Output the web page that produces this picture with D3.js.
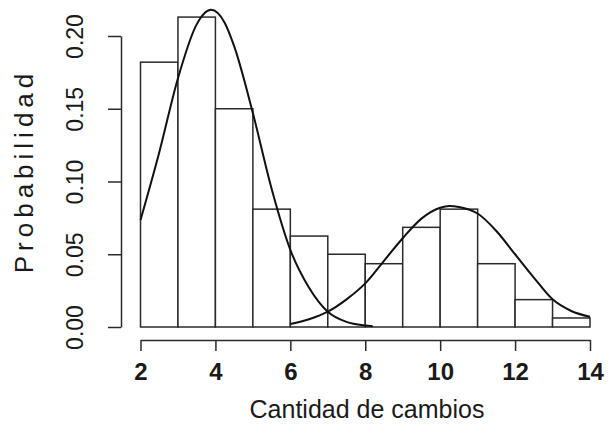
<!DOCTYPE html>
<html lang="es">
<meta charset="UTF-8">
<title>Probabilidad - Cantidad de cambios</title>
<style>
body {margin:0; background:#fff}
svg text {font-family: "Liberation Sans", Arial, sans-serif; fill:#1a1a1a}
</style>
<body>
<div id="chart"></div>
<script src="https://d3js.org/d3.v7.min.js"></script>
<script>
// histogram bins (left edge) and heights
var binStart = [2, 3, 4, 5, 6, 7, 8, 9, 10, 11, 12, 13];
var binProb  = [0.182, 0.213, 0.150, 0.081, 0.0625, 0.050, 0.0435, 0.0685, 0.081, 0.0435, 0.0188, 0.0062];

// first fitted curve (left mode)
var curve1X = [2, 2.5, 3, 3.5, 3.88, 4.25, 4.5, 5, 5.5, 6, 6.5, 7, 7.5, 8, 8.2];
var curve1Y = [0.0735, 0.120, 0.171, 0.208, 0.218, 0.209, 0.193, 0.147, 0.095, 0.053, 0.027, 0.0105, 0.0035, 0.001, 0.0005];

// second fitted curve (right mode)
var curve2X = [6, 6.5, 7, 7.5, 8, 8.5, 9, 9.5, 10, 10.25, 10.5, 11, 11.5, 12, 12.5, 13, 13.5, 14];
var curve2Y = [0.002, 0.0053, 0.0105, 0.019, 0.030, 0.0455, 0.061, 0.0745, 0.082, 0.0832, 0.0825, 0.078, 0.066, 0.050, 0.034, 0.019, 0.011, 0.007];

var xTicks = [2, 4, 6, 8, 10, 12, 14];
var yTicks = [0, 0.05, 0.10, 0.15, 0.20];

var W = 608, H = 424;
var svg = d3.select("#chart").append("svg")
    .attr("width", W)
    .attr("height", H);

var x = d3.scaleLinear().domain([2, 14]).range([140.5, 590]);
var y = d3.scaleLinear().domain([0, 0.2]).range([327, 36]);

// bars
svg.append("g")
  .selectAll("rect")
  .data(binStart)
  .enter().append("rect")
    .attr("x", function(d) { return x(d); })
    .attr("y", function(d, i) { return y(binProb[i]); })
    .attr("width", function(d) { return x(d + 1) - x(d); })
    .attr("height", function(d, i) { return y(0) - y(binProb[i]); })
    .attr("fill", "#fff")
    .attr("stroke", "#2b2b2b")
    .attr("stroke-width", 1.5);

// curves
var line = d3.line()
    .x(function(d) { return x(d[0]); })
    .y(function(d) { return y(d[1]); })
    .curve(d3.curveMonotoneX);

[[curve1X, curve1Y], [curve2X, curve2Y]].forEach(function(c) {
  svg.append("path")
    .datum(c[0].map(function(v, i) { return [v, c[1][i]]; }))
    .attr("d", line)
    .attr("fill", "none")
    .attr("stroke", "#111")
    .attr("stroke-width", 2);
});

// x axis
var gx = svg.append("g")
    .attr("transform", "translate(0,340)")
    .call(d3.axisBottom(x).tickValues(xTicks).tickSize(11).tickSizeOuter(0).tickPadding(12));
gx.select(".domain").attr("stroke", "#2b2b2b").attr("stroke-width", 1.5);
gx.selectAll(".tick line").attr("stroke", "#2b2b2b").attr("stroke-width", 1.5);
gx.selectAll(".tick text")
    .attr("font-size", 24)
    .attr("font-weight", "bold")
    .attr("fill", "#1a1a1a")
    .attr("font-family", "Liberation Sans, Arial, sans-serif");

// y axis
var gy = svg.append("g")
    .attr("transform", "translate(121,0)")
    .call(d3.axisLeft(y).tickValues(yTicks).tickFormat(d3.format(".2f")).tickSize(13).tickSizeOuter(0));
gy.select(".domain").attr("stroke", "#2b2b2b").attr("stroke-width", 1.5);
gy.selectAll(".tick line").attr("stroke", "#2b2b2b").attr("stroke-width", 1.5);
gy.selectAll(".tick text")
    .attr("font-size", 23)
    .attr("fill", "#1a1a1a")
    .attr("font-family", "Liberation Sans, Arial, sans-serif")
    .attr("text-anchor", "middle")
    .attr("dy", 0)
    .attr("transform", "translate(-38,0) rotate(-90)")
    .attr("x", 0)
    .attr("y", 0);

// axis titles
svg.append("text")
    .attr("x", 367)
    .attr("y", 418)
    .attr("text-anchor", "middle")
    .attr("font-size", 25)
    .text("Cantidad de cambios");

svg.append("text")
    .attr("transform", "translate(33,171) rotate(-90)")
    .attr("text-anchor", "middle")
    .attr("font-size", 26)
    .attr("letter-spacing", "5px")
    .text("Probabilidad");
</script>
</body>
</html>
